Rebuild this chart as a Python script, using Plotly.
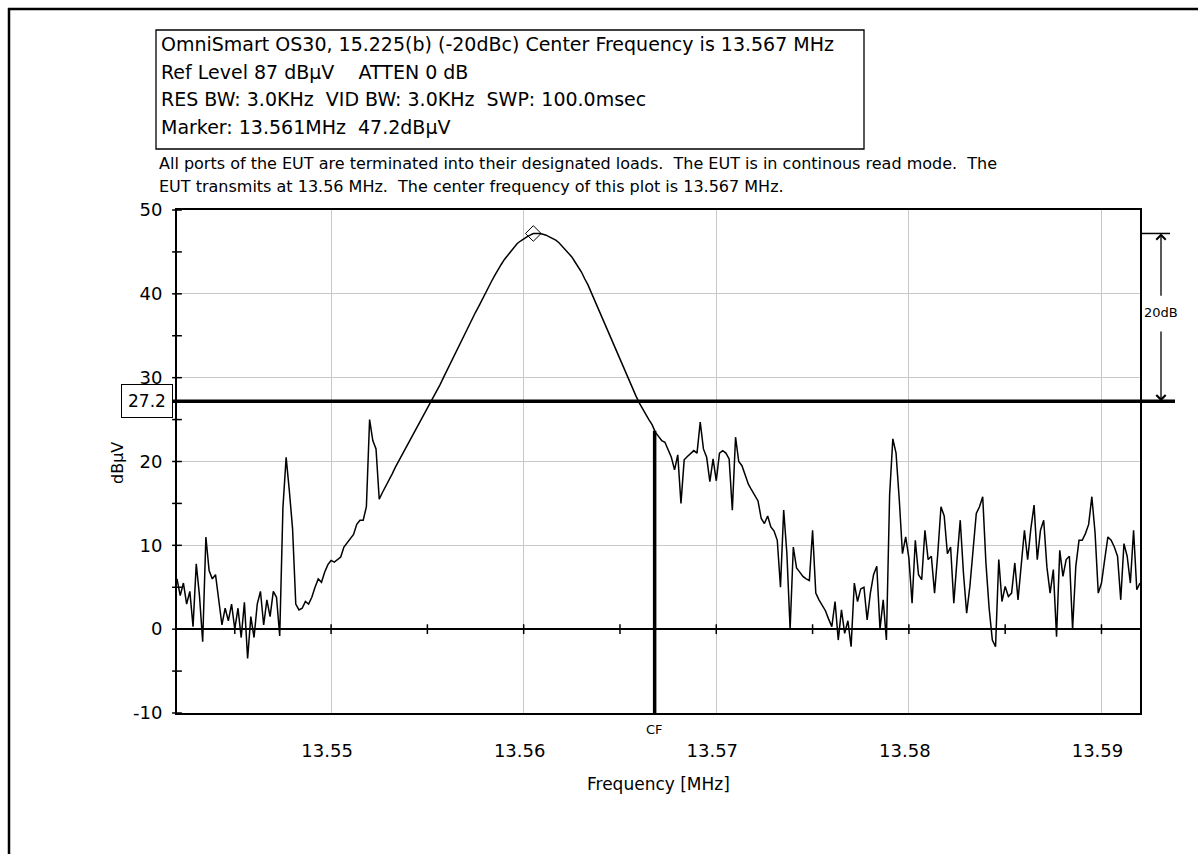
import numpy as np
import plotly.graph_objects as go

# ---------------- data ----------------
f_start_mhz = 13.542
f_stop_mhz = 13.592
level_dbuv = [
    6.0, 4.0, 5.5, 3.0, 4.5, 0.3, 7.8, 4.0, -1.5, 11.0,
    7.0, 6.0, 6.5, 3.5, 0.5, 2.5, 1.0, 3.0, 0.0, 2.5,
    -1.0, 3.2, -3.5, 1.5, -1.0, 3.0, 4.5, 0.5, 3.5, 1.5,
    4.5, 3.8, -0.8, 14.5, 20.5, 16.5, 12.0, 3.0, 2.3, 2.5,
    3.3, 3.0, 3.8, 5.0, 6.0, 5.6, 6.8, 7.7, 8.2, 8.0,
    8.3, 8.6, 9.8, 10.3, 10.9, 11.3, 12.5, 13.0, 13.0, 14.6,
    25.0, 22.5, 21.5, 15.5, 16.3, 17.0, 17.8, 18.5, 19.3, 20.0,
    20.8, 21.5, 22.2, 22.8, 23.5, 24.2, 24.9, 25.6, 26.3, 27.0,
    27.7, 28.4, 29.2, 30.0, 30.8, 31.6, 32.4, 33.2, 34.0, 34.8,
    35.6, 36.3, 37.0, 37.8, 38.5, 39.3, 40.0, 40.8, 41.5, 42.2,
    42.9, 43.5, 44.1, 44.6, 45.1, 45.6, 46.0, 46.3, 46.6, 46.8,
    47.0, 47.2, 47.2, 47.2, 47.1, 47.0, 46.8, 46.6, 46.4, 46.1,
    45.7, 45.3, 44.9, 44.4, 43.8, 43.2, 42.6, 41.8, 41.1, 40.2,
    39.3, 38.5, 37.6, 36.7, 35.8, 34.9, 34.0, 33.1, 32.2, 31.3,
    30.4, 29.5, 28.6, 27.8, 27.0, 26.3, 25.6, 25.0, 24.4, 23.5,
    23.0, 22.5, 22.3, 21.5, 20.5, 19.0, 20.8, 15.0, 20.2, 20.6,
    20.9, 21.3, 21.0, 24.7, 21.5, 20.5, 17.6, 20.3, 17.7, 21.0,
    21.3, 21.0, 20.3, 14.2, 22.9, 20.0, 19.5, 18.3, 17.3, 16.6,
    16.0, 15.3, 13.2, 12.6, 13.5, 12.2, 11.7, 10.6, 5.0, 14.2,
    9.0, 0.0, 9.8, 7.3, 6.8, 6.3, 6.0, 5.8, 11.8, 4.3,
    3.5, 2.8, 2.2, 1.2, 0.3, 3.3, -1.3, 2.3, -0.5, 1.0,
    -2.1, 5.5, 3.3, 4.8, 5.0, 1.1, 4.3, 6.5, 7.5, 0.0,
    3.5, -1.3, 16.0, 22.7, 21.0, 15.5, 9.0, 11.0, 8.5, 3.1,
    10.6, 6.5, 5.9, 11.8, 8.3, 8.7, 4.3, 9.0, 14.6, 13.5,
    9.0, 9.8, 3.1, 8.3, 13.0, 6.7, 1.9, 5.1, 9.0, 13.8,
    14.6, 15.8, 7.9, 2.5, -1.3, -2.1, 8.3, 3.3, 5.1, 3.9,
    4.3, 7.9, 3.5, 7.5, 11.8, 8.3, 12.0, 14.8, 8.3, 11.8,
    13.0, 7.4, 4.3, 7.1, -0.9, 9.4, 6.3, 8.3, 8.7, 0.0,
    7.5, 10.6, 10.6, 11.4, 12.5, 15.8, 11.5, 4.3, 5.5, 8.3,
    11.0, 10.6, 9.8, 8.7, 3.5, 10.2, 8.7, 5.5, 11.8, 4.7,
    5.5,
]
freq_mhz = np.linspace(f_start_mhz, f_stop_mhz, len(level_dbuv))

x_tick_vals = [13.55, 13.56, 13.57, 13.58, 13.59]
x_tick_text = ["13.55", "13.56", "13.57", "13.58", "13.59"]
x_minor_ticks = [13.545, 13.55, 13.555, 13.56, 13.565, 13.57, 13.575,
                 13.58, 13.585, 13.59]
y_tick_vals = [-10, 0, 10, 20, 30, 40, 50]
y_tick_text = ["-10", "0", "10", "20", "30", "40", "50"]
y_minor_ticks = [-10, -5, 0, 5, 10, 15, 20, 25, 30, 35, 40, 45, 50]

marker_freq_mhz = 13.5605
marker_level_dbuv = 47.2
delta_db = 20
ref_level_dbuv = 27.2
cf_line_mhz = 13.5668
y_min, y_max = -10, 50

header_lines = [
    "OmniSmart OS30, 15.225(b) (-20dBc) Center Frequency is 13.567 MHz",
    "Ref Level 87 dB\u00b5V\u00a0\u00a0\u00a0\u00a0ATTEN 0 dB",
    "RES BW: 3.0KHz\u00a0\u00a0VID BW: 3.0KHz\u00a0\u00a0SWP: 100.0msec",
    "Marker: 13.561MHz\u00a0\u00a047.2dB\u00b5V",
]
note_lines = [
    "All ports of the EUT are terminated into their designated loads.\u00a0\u00a0The EUT is in continous read mode.\u00a0\u00a0The",
    "EUT transmits at 13.56 MHz.\u00a0\u00a0The center frequency of this plot is 13.567 MHz.",
]

# ---------------- layout helpers ----------------
W, H = 1198, 854
L, R, T, B = 177, 58, 210, 141
PW, PH = W - L - R, H - T - B


def px(x):
    return (x - L) / PW


def py(y):
    return (H - B - y) / PH


FONT = "DejaVu Sans"

fig = go.Figure()

# main trace
fig.add_trace(go.Scatter(
    x=freq_mhz, y=level_dbuv, mode="lines",
    line=dict(color="black", width=1.5), hoverinfo="skip", showlegend=False,
))

# CF marker line
cf_level = float(np.interp(cf_line_mhz, freq_mhz, level_dbuv))
fig.add_trace(go.Scatter(
    x=[cf_line_mhz, cf_line_mhz], y=[y_min, cf_level], mode="lines",
    line=dict(color="black", width=3.5), hoverinfo="skip", showlegend=False,
))

# crossing ticks on zero line
fig.add_trace(go.Scatter(
    x=x_minor_ticks, y=[0] * len(x_minor_ticks), mode="markers",
    marker=dict(symbol="line-ns-open", size=7, color="black", line=dict(color="black", width=1.5)),
    cliponaxis=False, hoverinfo="skip", showlegend=False,
))
# crossing ticks on y axis
fig.add_trace(go.Scatter(
    x=[f_start_mhz] * len(y_minor_ticks), y=y_minor_ticks, mode="markers",
    marker=dict(symbol="line-ew-open", size=7, color="black", line=dict(color="black", width=1.5)),
    cliponaxis=False, hoverinfo="skip", showlegend=False,
))

# peak marker diamond
fig.add_trace(go.Scatter(
    x=[marker_freq_mhz], y=[marker_level_dbuv], mode="markers",
    marker=dict(symbol="diamond-open", size=12, color="black", line=dict(color="black", width=1)),
    cliponaxis=False, hoverinfo="skip", showlegend=False,
))

shapes = []
# reference (-20 dBc) line
shapes.append(dict(type="line", xref="paper", yref="y", x0=px(171), x1=px(1175),
                   y0=ref_level_dbuv, y1=ref_level_dbuv, line=dict(color="black", width=3.5)))
# peak level short line at right
shapes.append(dict(type="line", xref="paper", yref="y", x0=1.0, x1=px(1170),
                   y0=marker_level_dbuv, y1=marker_level_dbuv, line=dict(color="black", width=1.5)))
# header box
shapes.append(dict(type="rect", xref="paper", yref="paper", x0=px(156), x1=px(864),
                   y0=py(149), y1=py(30), line=dict(color="black", width=1.3)))
# outer frame (left and top edges)
shapes.append(dict(type="line", xref="paper", yref="paper", x0=px(9), x1=px(9),
                   y0=py(854), y1=py(8), line=dict(color="black", width=2.5)))
shapes.append(dict(type="line", xref="paper", yref="paper", x0=px(8), x1=px(1198),
                   y0=py(9), y1=py(9), line=dict(color="black", width=2.5)))

annotations = []
# 20 dB arrows
arrow_x = px(1161)
annotations.append(dict(xref="paper", yref="y", x=arrow_x, y=marker_level_dbuv,
                        axref="pixel", ayref="y", ax=0, ay=39.6, text="", showarrow=True,
                        arrowhead=4, arrowsize=1.4, arrowwidth=1.3, arrowcolor="black", standoff=0))
annotations.append(dict(xref="paper", yref="y", x=arrow_x, y=marker_level_dbuv - delta_db,
                        axref="pixel", ayref="y", ax=0, ay=35.7, text="", showarrow=True,
                        arrowhead=4, arrowsize=1.4, arrowwidth=1.3, arrowcolor="black", standoff=0))
annotations.append(dict(xref="paper", yref="paper", x=arrow_x, y=py(312),
                        text=f"{delta_db}dB", showarrow=False, xanchor="center", yanchor="middle",
                        font=dict(family=FONT, size=13, color="black")))
# 27.2 box
annotations.append(dict(xref="paper", yref="y", x=px(146.7), y=ref_level_dbuv,
                        text=f"{ref_level_dbuv:.1f}", showarrow=False, xanchor="center", yanchor="middle",
                        bgcolor="white", bordercolor="black", borderwidth=1, borderpad=6,
                        font=dict(family=FONT, size=17, color="black")))
# CF label
annotations.append(dict(xref="x", yref="paper", x=cf_line_mhz, y=py(729),
                        text="CF", showarrow=False, xanchor="center", yanchor="middle",
                        font=dict(family=FONT, size=13, color="black")))
# axis titles
annotations.append(dict(xref="paper", yref="paper", x=0.5, y=py(784),
                        text="Frequency [MHz]", showarrow=False, xanchor="center", yanchor="middle",
                        font=dict(family=FONT, size=17, color="black")))
annotations.append(dict(xref="paper", yref="paper", x=px(117), y=py(463),
                        text="dB\u00b5V", showarrow=False, textangle=-90,
                        xanchor="center", yanchor="middle",
                        font=dict(family=FONT, size=16, color="black")))
# header text lines
for txt, yc in zip(header_lines, [44, 72, 99, 127]):
    annotations.append(dict(xref="paper", yref="paper", x=px(159), y=py(yc), text=txt,
                            showarrow=False, xanchor="left", yanchor="middle",
                            font=dict(family=FONT, size=19, color="black")))
for txt, yc in zip(note_lines, [164, 186]):
    annotations.append(dict(xref="paper", yref="paper", x=px(157), y=py(yc), text=txt,
                            showarrow=False, xanchor="left", yanchor="middle",
                            font=dict(family=FONT, size=16, color="black")))

fig.update_layout(
    width=W, height=H,
    margin=dict(l=L, r=R, t=T, b=B, pad=0),
    paper_bgcolor="white", plot_bgcolor="white",
    showlegend=False,
    shapes=shapes, annotations=annotations,
    font=dict(family=FONT, color="black"),
)
fig.update_xaxes(
    range=[f_start_mhz, f_stop_mhz], tickvals=x_tick_vals, ticktext=x_tick_text,
    ticks="", ticklabelstandoff=20, ticklabelshift=-4,
    tickfont=dict(family=FONT, size=18, color="black"),
    showgrid=True, gridcolor="#c8c8c8", gridwidth=1,
    showline=True, linecolor="black", linewidth=2, mirror=True, zeroline=False,
)
fig.update_yaxes(
    range=[y_min, y_max], tickvals=y_tick_vals, ticktext=y_tick_text,
    ticks="", ticklabelstandoff=9, tickfont=dict(family=FONT, size=18, color="black"),
    showgrid=True, gridcolor="#c8c8c8", gridwidth=1,
    showline=True, linecolor="black", linewidth=2, mirror=True,
    zeroline=True, zerolinecolor="black", zerolinewidth=1.5,
)

fig.write_html("out.html")
